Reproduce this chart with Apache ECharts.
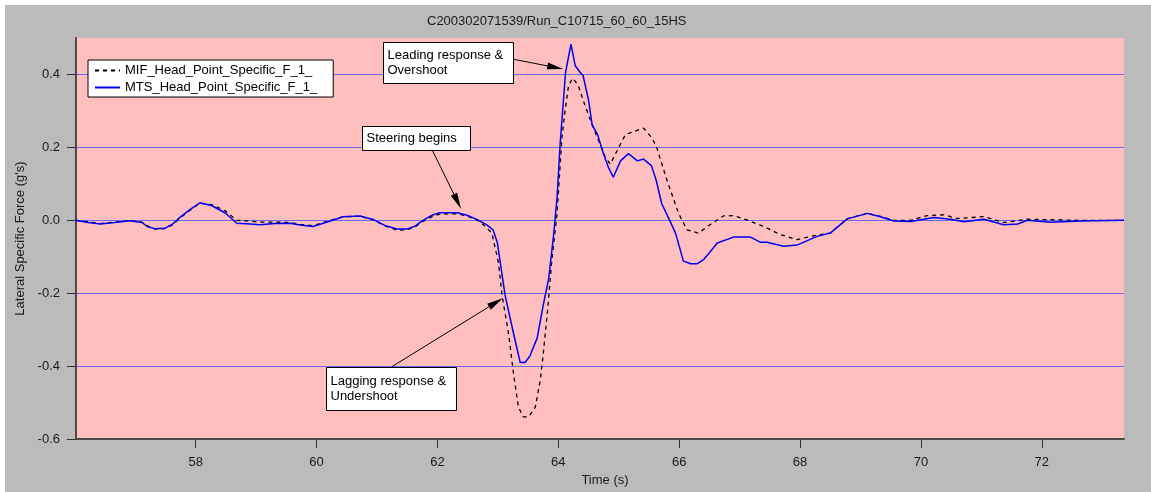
<!DOCTYPE html>
<html>
<head>
<meta charset="utf-8">
<script src="https://cdn.jsdelivr.net/npm/echarts@6/dist/echarts.min.js"></script>
<style>
  html, body { margin: 0; padding: 0; background: #ffffff; }
  #chart { position: absolute; left: 5px; top: 5px; width: 1146px; height: 487px; background: #bbbbbb; }
</style>
</head>
<body>
<div id="chart"></div>
<script>
// Run identifier and axis titles
const titleText = 'C200302071539/Run_C10715_60_60_15HS';
const xAxisTitle = 'Time (s)';
const yAxisTitle = "Lateral Specific Force (g's)";

// Tick positions
const xTicks = [58, 60, 62, 64, 66, 68, 70, 72];
const yTicks = [-0.6, -0.4, -0.2, 0.0, 0.2, 0.4];

// Series names
const mifName = 'MIF_Head_Point_Specific_F_1_';
const mtsName = 'MTS_Head_Point_Specific_F_1_';

// MTS lateral specific force (g's) against time (s)
const mtsTime = [
  56.02, 56.22, 56.42, 56.66, 56.91, 57.11, 57.21, 57.33, 57.49, 57.62,
  57.74, 57.91, 58.07, 58.27, 58.49, 58.68, 58.90, 59.06, 59.31, 59.56,
  59.73, 59.94, 60.19, 60.44, 60.72, 60.94, 61.13, 61.33, 61.50, 61.63,
  61.76, 61.91, 62.04, 62.33, 62.49, 62.66, 62.81, 62.92, 62.99, 63.04,
  63.12, 63.24, 63.37, 63.45, 63.53, 63.65, 63.75, 63.84, 63.92, 63.98,
  64.03, 64.12, 64.21, 64.28, 64.36, 64.41, 64.50, 64.56, 64.65, 64.75,
  64.83, 64.91, 65.03, 65.16, 65.31, 65.41, 65.54, 65.62, 65.71, 65.80,
  65.94, 66.07, 66.19, 66.30, 66.41, 66.52, 66.63, 66.90, 67.18, 67.34,
  67.45, 67.73, 67.95, 68.28, 68.50, 68.78, 69.11, 69.33, 69.55, 69.83,
  70.21, 70.49, 70.71, 71.04, 71.37, 71.60, 71.76, 72.15, 72.64, 73.36
];
const mtsValue = [
  0.000, -0.006, -0.010, -0.006, -0.001, -0.006, -0.018, -0.023, -0.022, -0.010,
  0.008, 0.030, 0.048, 0.040, 0.020, -0.008, -0.010, -0.012, -0.009, -0.008,
  -0.013, -0.017, -0.004, 0.010, 0.012, 0.002, -0.014, -0.024, -0.024, -0.016,
  0.000, 0.014, 0.021, 0.021, 0.014, 0.002, -0.012, -0.026, -0.060, -0.116,
  -0.206, -0.296, -0.390, -0.390, -0.372, -0.323, -0.233, -0.161, -0.044, 0.064,
  0.208, 0.406, 0.483, 0.424, 0.406, 0.397, 0.330, 0.262, 0.235, 0.181,
  0.145, 0.118, 0.163, 0.183, 0.163, 0.168, 0.150, 0.110, 0.046, 0.015,
  -0.035, -0.112, -0.119, -0.119, -0.107, -0.085, -0.062, -0.046, -0.046, -0.060,
  -0.060, -0.071, -0.068, -0.044, -0.035, 0.004, 0.019, 0.010, -0.002, -0.003,
  0.008, 0.003, -0.004, 0.003, -0.012, -0.010, 0.000, -0.005, -0.002, 0.000
];

// MIF lateral specific force (g's) against time (s)
const mifTime = [
  56.02, 56.22, 56.42, 56.66, 56.91, 57.11, 57.21, 57.33, 57.49, 57.62,
  57.74, 57.91, 58.07, 58.27, 58.49, 58.68, 58.90, 59.06, 59.31, 59.56,
  59.73, 59.94, 60.19, 60.44, 60.72, 60.94, 61.13, 61.33, 61.50, 61.63,
  61.76, 61.91, 62.04, 62.33, 62.49, 62.66, 62.76, 62.90, 63.01, 63.07,
  63.18, 63.26, 63.34, 63.42, 63.51, 63.62, 63.70, 63.75, 63.82, 63.89,
  63.98, 64.06, 64.11, 64.17, 64.24, 64.33, 64.42, 64.56, 64.67, 64.78,
  64.86, 64.97, 65.11, 65.41, 65.55, 65.63, 65.80, 65.99, 66.13, 66.32,
  66.51, 66.73, 66.90, 67.12, 67.40, 67.67, 67.95, 68.23, 68.50, 68.78,
  69.11, 69.33, 69.55, 69.83, 70.10, 70.38, 70.60, 71.04, 71.37, 71.76,
  72.03, 72.64, 73.36
];
const mifValue = [
  0.000, -0.004, -0.009, -0.005, -0.001, -0.005, -0.016, -0.024, -0.023, -0.012,
  0.006, 0.028, 0.047, 0.043, 0.026, 0.000, -0.002, -0.005, -0.005, -0.006,
  -0.011, -0.015, -0.002, 0.010, 0.011, 0.001, -0.015, -0.027, -0.026, -0.018,
  -0.003, 0.010, 0.017, 0.018, 0.012, 0.000, -0.012, -0.035, -0.116, -0.206,
  -0.314, -0.422, -0.512, -0.539, -0.539, -0.512, -0.440, -0.368, -0.251, -0.116,
  0.019, 0.226, 0.298, 0.370, 0.390, 0.370, 0.325, 0.262, 0.217, 0.172,
  0.154, 0.190, 0.235, 0.253, 0.226, 0.199, 0.109, 0.019, -0.026, -0.035,
  -0.012, 0.012, 0.013, 0.001, -0.017, -0.039, -0.053, -0.042, -0.035, 0.004,
  0.019, 0.011, 0.000, 0.000, 0.013, 0.015, 0.005, 0.010, -0.006, 0.003,
  0.002, 0.000, 0.000
];

// Callout text and the data points they point at
const calloutTexts = ['Leading response &\nOvershoot', 'Steering begins', 'Lagging response &\nUndershoot'];
const calloutTips = [[64.08, 0.415], [62.39, 0.032], [63.08, -0.214]];

// Callout box placement (time, value of the box's top-left corner) and arrow start
const calloutBoxes = [[61.10, 0.488], [60.75, 0.259], [60.15, -0.401]];
const calloutTails = [[63.25, 0.442], [61.91, 0.194], [61.25, -0.401]];
const calloutSizes = [[130, 41], [108, 24], [130, 43]];

const FONT = '"Liberation Sans", Arial, sans-serif';

function pairs(xs, ys) {
  return xs.map((x, i) => [x, ys[i]]);
}

const chart = echarts.init(document.getElementById('chart'), null, { renderer: 'canvas' });

chart.setOption({
  animation: false,
  textStyle: { fontFamily: FONT },
  title: {
    text: titleText,
    left: 422,
    top: 10,
    padding: 0,
    textStyle: { fontSize: 13, fontWeight: 'normal', color: '#1a1a1a', fontFamily: FONT }
  },
  legend: {
    data: [mifName, mtsName],
    orient: 'vertical',
    left: 83,
    top: 55,
    padding: [4, 16, 3, 6],
    itemWidth: 25,
    itemHeight: 14,
    itemGap: 4,
    backgroundColor: '#ffffff',
    borderColor: '#000000',
    borderWidth: 1,
    borderRadius: 0,
    selectedMode: false,
    // line-only keys: hide the point marker, keep the series line style
    itemStyle: { color: 'rgba(0,0,0,0)', borderWidth: 0, borderColor: 'rgba(0,0,0,0)' },
    textStyle: { fontSize: 13, color: '#000000', fontFamily: FONT }
  },
  grid: {
    left: 71, top: 33, width: 1048, height: 407,
    show: true, backgroundColor: '#ffbfbf', borderWidth: 0
  },
  xAxis: {
    type: 'value',
    min: 56.02,
    max: 73.36,
    name: xAxisTitle,
    nameLocation: 'middle',
    nameGap: 31,
    nameTextStyle: { fontSize: 13, color: '#1a1a1a', fontFamily: FONT, padding: [0, 0, 0, 10] },
    axisLine: { show: true, onZero: false, lineStyle: { color: '#4a4a4a', width: 2 } },
    axisTick: { show: true, customValues: xTicks, length: 9, lineStyle: { color: '#333333', width: 1 } },
    axisLabel: { customValues: xTicks, margin: 17, fontSize: 13, color: '#1a1a1a', fontFamily: FONT },
    splitLine: { show: false }
  },
  yAxis: {
    type: 'value',
    min: -0.6,
    max: 0.5,
    interval: 0.2,
    name: yAxisTitle,
    nameLocation: 'middle',
    nameRotate: 90,
    nameGap: 42,
    nameTextStyle: { fontSize: 13, color: '#1a1a1a', fontFamily: FONT },
    axisLine: { show: true, onZero: false, lineStyle: { color: '#4a4a4a', width: 2 } },
    axisTick: { show: true, customValues: yTicks, length: 9, lineStyle: { color: '#333333', width: 1 } },
    axisLabel: {
      customValues: yTicks, margin: 16, fontSize: 13, color: '#1a1a1a', fontFamily: FONT,
      formatter: v => v.toFixed(1)
    },
    splitLine: { show: true, lineStyle: { color: '#6a6af0', width: 1 } }
  },
  series: [
    {
      name: mifName,
      type: 'line',
      data: pairs(mifTime, mifValue),
      symbol: 'none',
      lineStyle: { color: '#000000', width: 1.3, type: [4, 4] },
      itemStyle: { color: '#000000' },
      z: 3
    },
    {
      name: mtsName,
      type: 'line',
      data: pairs(mtsTime, mtsValue),
      symbol: 'none',
      lineStyle: { color: '#0000f0', width: 1.5 },
      itemStyle: { color: '#0000f0' },
      z: 4
    }
  ]
});

// Callout boxes with arrows, positioned through the axes
function buildCallouts() {
  const elements = [];
  calloutTexts.forEach((text, i) => {
    const box = chart.convertToPixel({ gridIndex: 0 }, calloutBoxes[i]);
    const tail = chart.convertToPixel({ gridIndex: 0 }, calloutTails[i]);
    const tip = chart.convertToPixel({ gridIndex: 0 }, calloutTips[i]);
    const [w, h] = calloutSizes[i];
    elements.push({
      type: 'group',
      x: Math.round(box[0]) + 0.5,
      y: Math.round(box[1]) + 0.5,
      z: 20,
      children: [
        { type: 'rect', shape: { x: 0, y: 0, width: w, height: h },
          style: { fill: '#ffffff', stroke: '#000000', lineWidth: 1 } },
        { type: 'text', x: 4, y: h / 2,
          style: { text: text, fill: '#000000', font: '13px ' + FONT,
                   lineHeight: 15, verticalAlign: 'middle', align: 'left' } }
      ]
    });
    const dx = tip[0] - tail[0], dy = tip[1] - tail[1];
    const len = Math.sqrt(dx * dx + dy * dy);
    const ux = dx / len, uy = dy / len;
    const headLen = 16, headHalf = 3.5;
    const bx = tip[0] - ux * headLen, by = tip[1] - uy * headLen;
    elements.push({
      type: 'line', z: 20,
      shape: { x1: tail[0], y1: tail[1], x2: bx, y2: by },
      style: { stroke: '#000000', lineWidth: 1 }
    });
    elements.push({
      type: 'polygon', z: 20,
      shape: { points: [
        [tip[0], tip[1]],
        [bx - uy * headHalf, by + ux * headHalf],
        [bx + uy * headHalf, by - ux * headHalf]
      ] },
      style: { fill: '#000000' }
    });
  });
  chart.setOption({ graphic: elements });
}
buildCallouts();
</script>
</body>
</html>
